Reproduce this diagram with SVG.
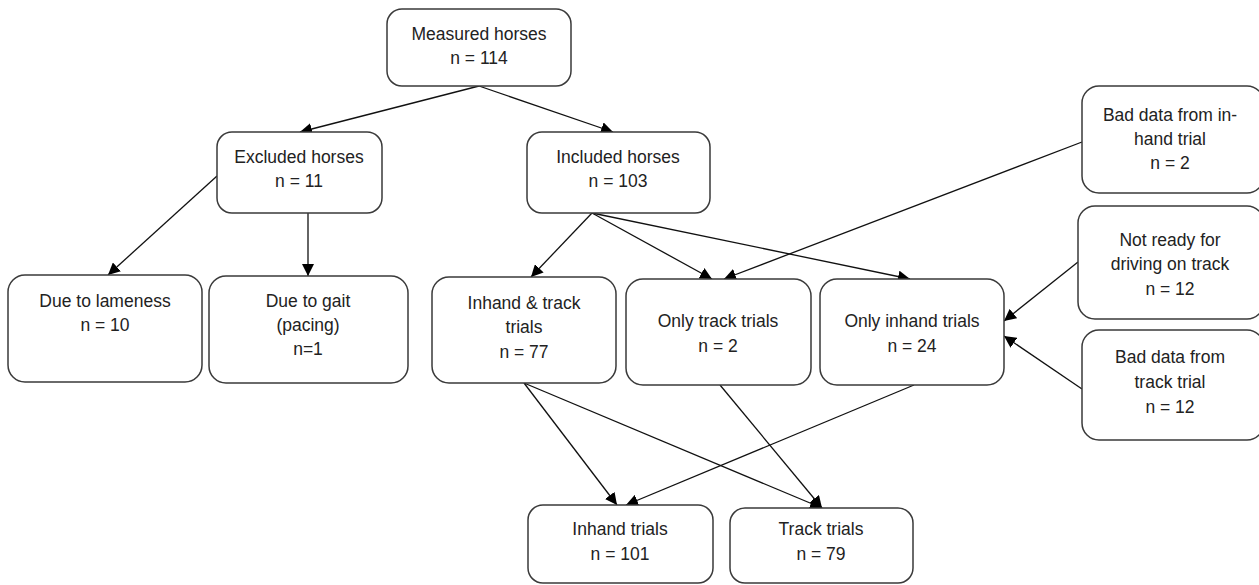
<svg xmlns="http://www.w3.org/2000/svg" width="1259" height="585" viewBox="0 0 1259 585">
<defs>
<marker id="ah" viewBox="0 0 10 10" refX="10" refY="5" markerWidth="12" markerHeight="12" markerUnits="userSpaceOnUse" orient="auto">
<path d="M0,0 L10,5 L0,10 z" fill="#000"/>
</marker>
<style>
.box{fill:#fff;stroke:#3a3a3a;stroke-width:1.5}
.t{font-family:"Liberation Sans",Arial,sans-serif;font-size:17.5px;fill:#222;text-anchor:middle}
.c{stroke:#111;stroke-width:1.3;fill:none;marker-end:url(#ah)}
</style>
</defs>
<rect width="1259" height="585" fill="#fff"/>
<g id="connectors">
<line class="c" x1="479" y1="86" x2="300" y2="132"/>
<line class="c" x1="479" y1="86" x2="613" y2="132"/>
<line class="c" x1="217" y1="176" x2="108" y2="275"/>
<line class="c" x1="308" y1="213" x2="308" y2="276"/>
<line class="c" x1="592" y1="213" x2="531" y2="277"/>
<line class="c" x1="592" y1="213" x2="712" y2="279"/>
<line class="c" x1="592" y1="213" x2="910" y2="279"/>
<line class="c" x1="1082" y1="142" x2="724" y2="279"/>
<line class="c" x1="1078" y1="262" x2="1004" y2="321"/>
<line class="c" x1="1082" y1="389" x2="1004" y2="336"/>
<line class="c" x1="524" y1="383" x2="617" y2="505"/>
<line class="c" x1="524" y1="383" x2="822" y2="508"/>
<line class="c" x1="720" y1="385" x2="822" y2="508"/>
<line class="c" x1="914" y1="385" x2="626" y2="505"/>
</g>
<g id="measured"><rect class="box" x="387" y="9" width="184" height="77" rx="15"/>
<text class="t" x="479" y="40">Measured horses</text><text class="t" x="479" y="64">n = 114</text></g>
<g id="excluded"><rect class="box" x="217" y="132" width="165" height="81" rx="15"/>
<text class="t" x="299" y="163">Excluded horses</text><text class="t" x="299" y="187">n = 11</text></g>
<g id="included"><rect class="box" x="527" y="132" width="183" height="81" rx="15"/>
<text class="t" x="618" y="163">Included horses</text><text class="t" x="618" y="187">n = 103</text></g>
<g id="lameness"><rect class="box" x="8" y="275" width="194" height="107" rx="17"/>
<text class="t" x="105" y="307">Due to lameness</text><text class="t" x="105" y="331">n = 10</text></g>
<g id="gait"><rect class="box" x="209" y="276" width="199" height="107" rx="17"/>
<text class="t" x="308" y="307">Due to gait</text><text class="t" x="308" y="331">(pacing)</text><text class="t" x="308" y="355">n=1</text></g>
<g id="inhandtrack"><rect class="box" x="432" y="277" width="184" height="106" rx="17"/>
<text class="t" x="524" y="309">Inhand &amp; track</text><text class="t" x="524" y="333">trials</text><text class="t" x="524" y="358">n = 77</text></g>
<g id="onlytrack"><rect class="box" x="626" y="279" width="185" height="106" rx="17"/>
<text class="t" x="718" y="327">Only track trials</text><text class="t" x="718" y="352">n = 2</text></g>
<g id="onlyinhand"><rect class="box" x="820" y="279" width="184" height="106" rx="17"/>
<text class="t" x="912" y="327">Only inhand trials</text><text class="t" x="912" y="352">n = 24</text></g>
<g id="baddata-inhand"><rect class="box" x="1082" y="86" width="182" height="107" rx="17"/>
<text class="t" x="1170" y="121">Bad data from in-</text><text class="t" x="1170" y="145">hand trial</text><text class="t" x="1170" y="169">n = 2</text></g>
<g id="notready"><rect class="box" x="1078" y="206" width="186" height="113" rx="17"/>
<text class="t" x="1170" y="246">Not ready for</text><text class="t" x="1170" y="270">driving on track</text><text class="t" x="1170" y="295">n = 12</text></g>
<g id="baddata-track"><rect class="box" x="1082" y="330" width="182" height="110" rx="17"/>
<text class="t" x="1170" y="363">Bad data from</text><text class="t" x="1170" y="388">track trial</text><text class="t" x="1170" y="413">n = 12</text></g>
<g id="inhandtrials"><rect class="box" x="528" y="505" width="185" height="78" rx="15"/>
<text class="t" x="620" y="535">Inhand trials</text><text class="t" x="620" y="560">n = 101</text></g>
<g id="tracktrials"><rect class="box" x="730" y="508" width="183" height="75" rx="15"/>
<text class="t" x="821" y="535">Track trials</text><text class="t" x="821" y="560">n = 79</text></g>
</svg>
